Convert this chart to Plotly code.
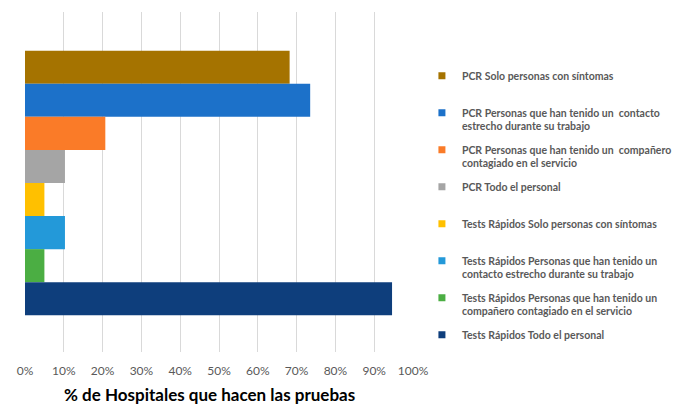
import plotly.graph_objects as go

series_names = [
    "PCR Solo personas con síntomas",
    "PCR Personas que han tenido un  contacto<br>estrecho durante su trabajo",
    "PCR Personas que han tenido un  compañero<br>contagiado en el servicio",
    "PCR Todo el personal",
    "Tests Rápidos Solo personas con síntomas",
    "Tests Rápidos Personas que han tenido un<br>contacto estrecho durante su trabajo",
    "Tests Rápidos Personas que han tenido un<br>compañero contagiado en el servicio",
    "Tests Rápidos Todo el personal",
]
values = [0.682, 0.735, 0.207, 0.103, 0.05, 0.103, 0.05, 0.946]
colors = ["#A57300", "#1C71C9", "#FA7B28", "#A5A5A5", "#FFC000", "#2399D9", "#4BAE43", "#0E3E7C"]
tick_vals = [0, 0.1, 0.2, 0.3, 0.4, 0.5, 0.6, 0.7, 0.8, 0.9, 1.0]
tick_text = ["0%", "10%", "20%", "30%", "40%", "50%", "60%", "70%", "80%", "90%", "100%"]
x_title = "% de Hospitales que hacen las pruebas"

fig = go.Figure()
for i, (name, v, c) in enumerate(zip(series_names, values, colors)):
    label = name if "<br>" in name else name + "<br> "
    fig.add_trace(go.Bar(
        x=[v], y=[i], orientation="h", name=label,
        marker=dict(color=c, line=dict(width=0)),
        width=1.0, showlegend=False,
    ))
    # legend entry with a small square swatch
    fig.add_trace(go.Scatter(
        x=[None], y=[None], mode="markers", name=label,
        marker=dict(symbol="square", size=7, color=c),
        legendgroup=f"g{i}", showlegend=True,
    ))

fig.update_layout(
    width=673, height=397,
    margin=dict(l=17, r=268, t=4, b=53, autoexpand=False),
    paper_bgcolor="white", plot_bgcolor="white",
    barmode="overlay",
    showlegend=True,
    legend=dict(
        x=1.023, xanchor="left", y=0.852, yanchor="top",
        font=dict(family="Lato", size=10.5, color="#595959", weight="bold"),
        valign="top", tracegroupgap=6.7, itemwidth=30,
        bgcolor="rgba(0,0,0,0)",
    ),
    font=dict(family="Lato"),
    annotations=[dict(
        text="<b>" + x_title + "</b>", xref="paper", yref="paper",
        x=0.475, y=-0.126, xanchor="center", yanchor="middle", showarrow=False,
        font=dict(family="Lato", size=17, color="#000000"),
    )],
)
fig.update_xaxes(
    range=[0, 1.0], tickvals=tick_vals, ticktext=tick_text,
    showgrid=True, gridcolor="#D9D9D9", gridwidth=1,
    zeroline=False, showline=False, automargin=False,
    ticklabelstandoff=10,
    tickfont=dict(family="Lato", size=12, color="#595959"),
)
fig.update_yaxes(
    range=[8.61, -1.67], showticklabels=False, showgrid=False, zeroline=False, showline=False,
    automargin=False,
)

fig.write_html("out.html")
